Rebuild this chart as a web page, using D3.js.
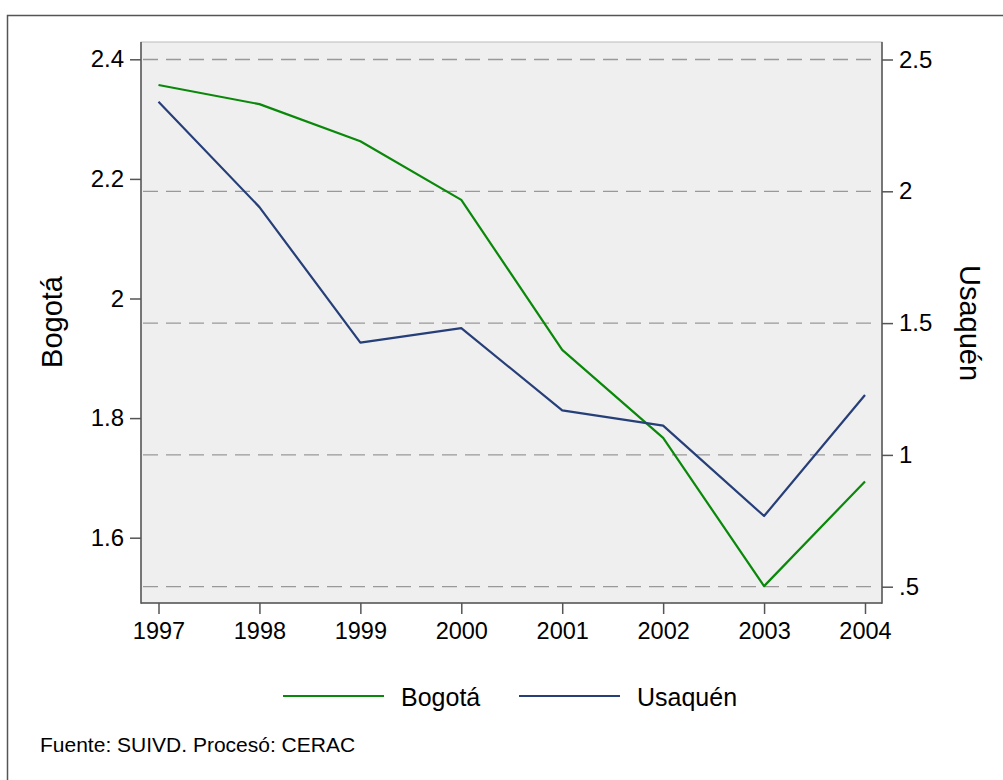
<!DOCTYPE html>
<html>
<head>
<meta charset="utf-8">
<script src="https://cdn.jsdelivr.net/npm/d3@7"></script>
<style>
  html, body { margin: 0; padding: 0; background: #fff; }
  svg { display: block; font-family: "Liberation Sans", Arial, sans-serif; }
</style>
</head>
<body>
<svg id="chart" width="1003" height="780"></svg>
<script>
const years = [1997, 1998, 1999, 2000, 2001, 2002, 2003, 2004];
const bogota = [2.357, 2.325, 2.263, 2.165, 1.914, 1.767, 1.519, 1.694];
const usaquen = [2.340, 1.940, 1.426, 1.481, 1.169, 1.111, 0.768, 1.227];
const leftTicks = [1.6, 1.8, 2.0, 2.2, 2.4];
const leftTickLabels = ["1.6", "1.8", "2", "2.2", "2.4"];
const rightTicks = [0.5, 1.0, 1.5, 2.0, 2.5];
const rightTickLabels = [".5", "1", "1.5", "2", "2.5"];
const seriesNames = ["Bogotá", "Usaquén"];
const seriesColors = ["#0a880a", "#263f78"];
const footnote = "Fuente: SUIVD. Procesó: CERAC";

const svg = d3.select("#chart");
const plot = { left: 141, right: 882, top: 42, bottom: 603 };

// outer frame
svg.append("path")
  .attr("d", "M7.5,800 L7.5,15.5 L1010,15.5")
  .attr("fill", "none").attr("stroke", "#555").attr("stroke-width", 1.5);

const x = d3.scaleLinear().domain([1997, 2004]).range([158.5, 865]);
const yL = d3.scaleLinear().domain([1.6, 2.4]).range([537.7, 59.3]);
const yR = d3.scaleLinear().domain([0.5, 2.5]).range([586.7, 59.5]);

// plot background
svg.append("rect")
  .attr("x", plot.left).attr("y", plot.top)
  .attr("width", plot.right - plot.left).attr("height", plot.bottom - plot.top)
  .attr("fill", "#efefef").attr("stroke", "#bbb").attr("stroke-width", 1);

// gridlines (right axis)
svg.append("g").selectAll("line").data(rightTicks).join("line")
  .attr("x1", plot.left + 2).attr("x2", plot.right - 3)
  .attr("y1", d => yR(d)).attr("y2", d => yR(d))
  .attr("stroke", "#999").attr("stroke-width", 1.3)
  .attr("stroke-dasharray", "15,8");

// axes
const fsY = 24, fsX = 23.5;
const gL = svg.append("g").attr("transform", `translate(${plot.left},0)`)
  .call(d3.axisLeft(yL).tickValues(leftTicks)
    .tickFormat((d, i) => leftTickLabels[i]).tickSize(11).tickPadding(6).tickSizeOuter(0));
const gR = svg.append("g").attr("transform", `translate(${plot.right},0)`)
  .call(d3.axisRight(yR).tickValues(rightTicks)
    .tickFormat((d, i) => rightTickLabels[i]).tickSize(11).tickPadding(6).tickSizeOuter(0));
const gX = svg.append("g").attr("transform", `translate(0,${plot.bottom})`)
  .call(d3.axisBottom(x).tickValues(years).tickFormat(d3.format("d"))
    .tickSize(11).tickPadding(8).tickSizeOuter(0));

[[gL, fsY], [gR, fsY], [gX, fsX]].forEach(([g, f]) => {
  g.select(".domain").remove();
  g.selectAll(".tick line").attr("stroke", "#555").attr("stroke-width", 1.5);
  g.selectAll(".tick text").attr("fill", "#000")
    .style("font-size", f + "px").style("font-family", "'Liberation Sans', Arial, sans-serif");
});

// axis lines
svg.append("line").attr("x1", plot.left).attr("x2", plot.left)
  .attr("y1", plot.top).attr("y2", plot.bottom + 0.75)
  .attr("stroke", "#555").attr("stroke-width", 1.5);
svg.append("line").attr("x1", plot.right).attr("x2", plot.right)
  .attr("y1", plot.top).attr("y2", plot.bottom + 0.75)
  .attr("stroke", "#555").attr("stroke-width", 1.5);
svg.append("line").attr("x1", plot.left).attr("x2", plot.right)
  .attr("y1", plot.bottom).attr("y2", plot.bottom)
  .attr("stroke", "#555").attr("stroke-width", 1.5);

// lines
const lineL = d3.line().x((d, i) => x(years[i])).y(d => yL(d));
const lineR = d3.line().x((d, i) => x(years[i])).y(d => yR(d));
svg.append("path").datum(bogota).attr("d", lineL)
  .attr("fill", "none").attr("stroke", seriesColors[0]).attr("stroke-width", 2.2)
  .attr("stroke-linejoin", "round");
svg.append("path").datum(usaquen).attr("d", lineR)
  .attr("fill", "none").attr("stroke", seriesColors[1]).attr("stroke-width", 2.2)
  .attr("stroke-linejoin", "round");

// axis titles
svg.append("text").attr("transform", "translate(62,322) rotate(-90)")
  .attr("text-anchor", "middle").style("font-size", "29px").text(seriesNames[0]);
svg.append("text").attr("transform", "translate(960,323) rotate(90)")
  .attr("text-anchor", "middle").style("font-size", "29px").text(seriesNames[1]);

// legend
const legX = [283, 519];
seriesNames.forEach((n, i) => {
  svg.append("line").attr("x1", legX[i]).attr("x2", legX[i] + 101)
    .attr("y1", 696).attr("y2", 696)
    .attr("stroke", seriesColors[i]).attr("stroke-width", 2.2);
  svg.append("text").attr("x", legX[i] + 118).attr("y", 706)
    .style("font-size", "25px").text(n);
});

// footnote
svg.append("text").attr("x", 40).attr("y", 752)
  .style("font-size", "21px").text(footnote);
</script>
</body>
</html>
